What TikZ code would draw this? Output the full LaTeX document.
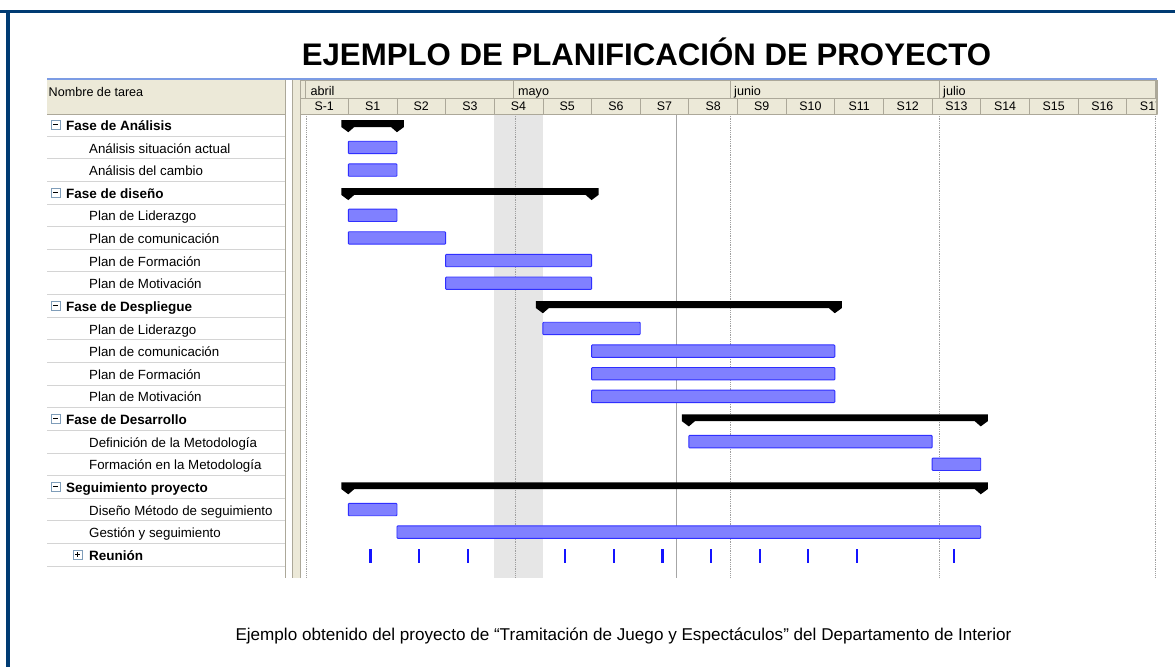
\documentclass[tikz,border=0pt]{standalone}
\usepackage{fontspec}
\setmainfont{Liberation Sans}
\definecolor{framec}{HTML}{003B73}
\definecolor{beige}{HTML}{ECE9D8}
\definecolor{hdrline}{HTML}{ACA899}
\definecolor{rowline}{HTML}{D4D4D4}
\definecolor{barfill}{HTML}{8080FF}
\definecolor{barline}{HTML}{2F2FFF}
\definecolor{tblue}{HTML}{7C9CE4}
\definecolor{tickc}{HTML}{1414FF}
\definecolor{shadecol}{HTML}{E6E6E6}
\definecolor{iconline}{HTML}{7F9DB9}
\tikzset{
  taskname/.style={anchor=base west, inner sep=0pt, font=\fontsize{13.3}{15}\selectfont},
  phasename/.style={anchor=base west, inner sep=0pt, font=\fontsize{13.5}{15}\selectfont\bfseries},
  hdrtext/.style={anchor=base west, inner sep=0pt, font=\fontsize{12.6}{14}\selectfont},
  weektext/.style={anchor=base, inner sep=0pt, font=\fontsize{12.4}{14}\selectfont},
  taskbar/.style={fill=barfill, draw=barline, line width=0.9pt, rounded corners=0.8pt},
  sumbar/.style={fill=black},
  gridline/.style={gray!75, densely dotted, line width=0.8pt},
  reunionmark/.style={tickc, line width=2.2pt},
  hdrcell/.style={fill=beige, draw=hdrline, line width=0.8pt},
  iconbox/.style={draw=iconline, fill=white, line width=0.8pt},
}
\begin{document}
\begin{tikzpicture}[x=1pt,y=-1pt]
\useasboundingbox (0,0) rectangle (1175,667);
\fill[white] (0,0) rectangle (1175,667);
% frame
\fill[framec] (0,10) rectangle (1175,12.7);
\fill[framec] (6,10) rectangle (10,667);
% title
\node[anchor=base, inner sep=0pt, font=\fontsize{31.2}{36}\selectfont\bfseries] (title) at (646.5,65) {EJEMPLO DE PLANIFICACIÓN DE PROYECTO};
% caption
\node[anchor=base, inner sep=0pt, font=\fontsize{17.1}{20}\selectfont] (caption) at (623.5,640.5) {Ejemplo obtenido del proyecto de “Tramitación de Juego y Espectáculos” del Departamento de Interior};

% chart area
\fill[shadecol] (494,114) rectangle (543,578);
\foreach \gx in {306,515,730,939,1155}{
  \draw[gridline] (\gx,114) -- (\gx,578);
}
\draw[gray!70, line width=0.8pt] (676,114) -- (676,578);

% summary bars and phase names
\foreach \i/\a/\b/\t in {0/0/1/Fase de Análisis, 3/0/5/Fase de diseño, 8/4/10/Fase de Despliegue, 13/7/13/Fase de Desarrollo, 16/0/13/Seguimiento proyecto}{
  \pgfmathsetmacro\yc{124.8+22.63*\i}
  \pgfmathsetmacro\s{348.3+48.65*\a}
  \pgfmathsetmacro\e{348.3+48.65*\b}
  \fill[sumbar] ({\s-7},{\yc-4.6}) -- ({\e+7},{\yc-4.6}) -- ({\e+7},{\yc+2.2}) -- (\e,{\yc+7.4}) -- ({\e-6},{\yc+2.2})
     -- ({\s+6},{\yc+2.2}) -- (\s,{\yc+7.4}) -- ({\s-7},{\yc+2.2}) -- cycle;
  \node[phasename] (p\i) at (66,{\yc+5.6}) {\t};
  \draw[iconbox] (51,{\yc-4.3}) rectangle (60,{\yc+4.3});
  \draw[black, line width=1pt] (53.2,\yc) -- (57.8,\yc);
}

% task bars and names
\foreach \i/\a/\b/\t in {1/0/1/Análisis situación actual, 2/0/1/Análisis del cambio, 4/0/1/Plan de Liderazgo, 5/0/2/Plan de comunicación, 6/2/5/Plan de Formación, 7/2/5/Plan de Motivación, 9/4/6/Plan de Liderazgo, 10/5/10/Plan de comunicación, 11/5/10/Plan de Formación, 12/5/10/Plan de Motivación, 14/7/12/Definición de la Metodología, 15/12/13/Formación en la Metodología, 17/0/1/Diseño Método de seguimiento, 18/1/13/Gestión y seguimiento}{
  \pgfmathsetmacro\yc{124.8+22.63*\i}
  \draw[taskbar] ({348.3+48.65*\a},{\yc-6.2}) rectangle ({348.3+48.65*\b},{\yc+6.2});
  \node[taskname] (t\i) at (89,{\yc+5.6}) {\t};
}

% Reunion row
\pgfmathsetmacro\yr{124.8+22.63*19}
\node[phasename] (reunion) at (89,{\yr+5.6}) {Reunión};
\draw[iconbox] (73.3,{\yr-4.5}) rectangle (82,{\yr+4.5});
\draw[black, line width=1pt] (75.4,\yr) -- (79.9,\yr);
\draw[black, line width=1pt] (77.65,{\yr-2.3}) -- (77.65,{\yr+2.3});
\foreach \k in {0,1,2,4,5,6,7,8,9,10,12}{
  \draw[reunionmark] ({370.5+48.65*\k},{\yr-5.5}) -- ({370.5+48.65*\k},{\yr+8});
}

% header of chart
\begin{scope}
\clip (300,79) rectangle (1157.5,114.5);
\draw[hdrcell] (300,80) rectangle (1160,98);
\draw[hdrcell] (300,98) rectangle (1160,114);
\foreach \mx in {305,513,730,939,1155}{
  \draw[hdrline, line width=0.8pt] (\mx,80) -- (\mx,98);
}
\foreach \k in {0,...,17}{
  \draw[hdrline, line width=0.8pt] ({348.3+48.65*\k},98) -- ({348.3+48.65*\k},114);
}
\node[weektext] (wm1) at (324.2,110.5) {S-1};
\foreach \k in {1,...,17}{
  \node[weektext] (w\k) at ({372.6+48.65*(\k-1)},110.5) {S\k};
}
\end{scope}
\node[hdrtext] (abril) at (310.5,95) {abril};
\node[hdrtext] (mayo) at (518,95) {mayo};
\node[hdrtext] (junio) at (734,95) {junio};
\node[hdrtext] (julio) at (943,95) {julio};
\draw[hdrline, line width=1.5pt] (1157,80) -- (1157,114);

% left table
\fill[beige] (47,80) rectangle (285,114);
\draw[hdrline, line width=0.8pt] (47,114) -- (285,114);
\node[hdrtext] (nombre) at (48.5,96.5) {Nombre de tarea};
\foreach \k in {1,...,20}{
  \draw[rowline, line width=0.9pt] (47,{113.5+22.63*\k}) -- (285,{113.5+22.63*\k});
}
% splitter
\fill[beige] (292,80) rectangle (300,578);
\draw[hdrline, line width=0.8pt] (285.5,80) -- (285.5,578);
\draw[hdrline, line width=0.8pt] (292,80) -- (292,578);
\draw[hdrline, line width=0.8pt] (300,80) -- (300,578);
% top blue line
\draw[tblue, line width=1.6pt] (47,79.2) -- (1157,79.2);
\end{tikzpicture}
\end{document}
